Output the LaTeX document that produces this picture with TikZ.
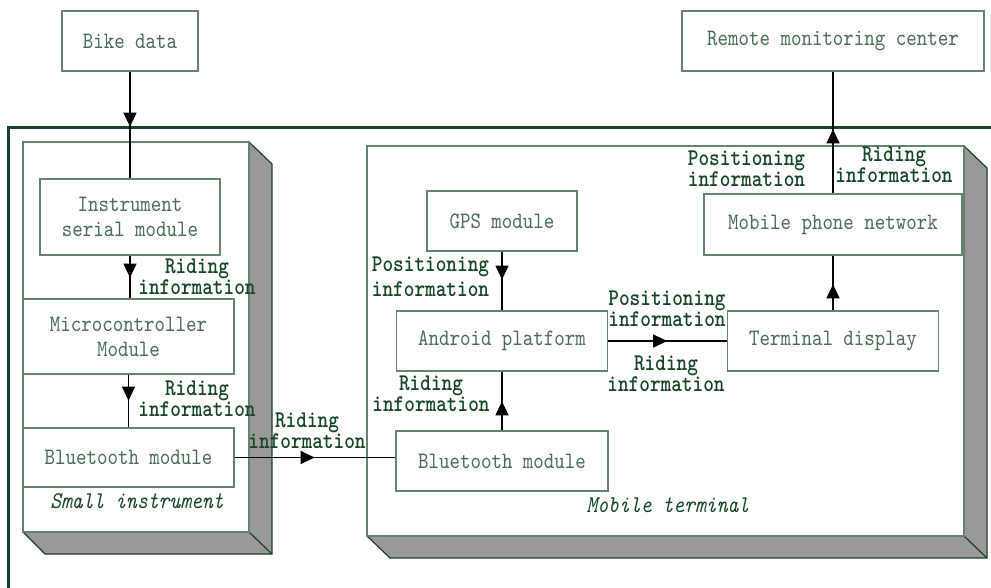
\documentclass[tikz,border=0pt]{standalone}
\usepackage{fontspec}
\usetikzlibrary{arrows.meta,decorations.markings}
\newfontfamily\unitface{lmmono10-regular.otf}[FakeStretch=0.85]
\newfontfamily\labelface{lmmonolt10-bold.otf}[FakeStretch=0.845]
\newfontfamily\captionface{lmmono10-italic.otf}[FakeStretch=0.86]
\definecolor{framegreen}{RGB}{22,68,38}
\definecolor{boxline}{RGB}{100,132,112}
\definecolor{boxtext}{RGB}{72,108,86}
\definecolor{lblgreen}{RGB}{20,70,38}
\definecolor{slabgray}{RGB}{153,153,153}
\newcommand\boxfont{\unitface\fontsize{23.5}{25}\selectfont}
\newcommand\lblfont{\labelface\fontsize{24}{19}\selectfont}
\newcommand\posfont{\labelface\fontsize{24}{25}\selectfont}
\newcommand\capfont{\captionface\fontsize{24}{25}\selectfont}
\tikzset{
  unit/.style={draw=boxline, fill=white, line width=1.3pt, text=boxtext,
    font=\boxfont, inner sep=0pt, align=center},
  flowlabel/.style={text=lblgreen, font=\lblfont, align=center, inner sep=0pt, anchor=south},
  poslabel/.style={text=lblgreen, font=\posfont, align=center, inner sep=0pt, anchor=south},
  casecaption/.style={text=lblgreen, font=\capfont, inner sep=0pt, anchor=base},
  link/.style={draw=black, line width=1.2pt},
  tipat/.style={postaction={decorate, decoration={markings,
    mark=at position #1 with {\arrow{Triangle[width=13pt,length=14pt]}}}}},
  slab/.style={fill=slabgray},
  casing/.style={draw=framegreen, line width=1.2pt},
  face/.style={draw=boxline, fill=white, line width=1.3pt},
}
\begin{document}
\begin{tikzpicture}[x=1pt,y=-1pt]
\useasboundingbox (0,0) rectangle (991,588);

% outer system frame
\draw[framegreen, line width=3pt] (8.5,588) -- (8.5,127.5) -- (991,127.5);

% small instrument casing
\fill[slab] (249,142) -- (272,164) -- (272,554) -- (45,554) -- (23,532) -- (249,532) -- cycle;
\draw[casing] (23,532) -- (45,554) -- (272,554) -- (272,164) -- (249,142);
\draw[casing] (249,532) -- (272,554);
\draw[face] (23,142) rectangle (249,532);

% mobile terminal casing
\fill[slab] (964,146) -- (987,168) -- (987,558) -- (390,558) -- (367,536) -- (964,536) -- cycle;
\draw[casing] (367,536) -- (390,558) -- (987,558) -- (987,168) -- (964,146);
\draw[casing] (964,536) -- (987,558);
\draw[face] (367,146) rectangle (964,536);

% units
\node[unit, minimum width=136pt, minimum height=60pt] (bike) at (130,41) {Bike data};
\node[unit, minimum width=302pt, minimum height=60pt] (remote) at (833,41) {Remote monitoring center};
\node[unit, minimum width=180pt, minimum height=76pt] (serial) at (130,217) {Instrument\\serial module};
\node[unit, minimum width=211pt, minimum height=75pt] (micro) at (128.5,336.5) {Microcontroller\\Module};
\node[unit, minimum width=211pt, minimum height=59pt] (btl) at (128.5,457.5) {Bluetooth module};
\node[unit, minimum width=150pt, minimum height=60pt] (gps) at (502,221) {GPS module};
\node[unit, minimum width=211pt, minimum height=60pt] (android) at (502,341) {Android platform};
\node[unit, minimum width=212pt, minimum height=60pt] (btm) at (502,461) {Bluetooth module};
\node[unit, minimum width=211pt, minimum height=60pt] (term) at (833,341) {Terminal display};
\node[unit, minimum width=258pt, minimum height=61pt] (mpn) at (833,224.5) {Mobile phone network};

% connectors
\draw[link, tipat=55pt] (bike.south) -- (serial.north);
\draw[link, tipat=22pt] (serial.south) -- (serial.south |- micro.north);
\draw[link, tipat=26pt] (micro.south) -- (btl.north);
\draw[link, tipat=80pt] (btl.east) -- (btl.east -| btm.west);
\draw[link, tipat=28pt] (gps.south) -- (android.north);
\draw[link, tipat=29pt] (btm.north) -- (android.south);
\draw[link, tipat=59pt] (android.east) -- (term.west);
\draw[link, tipat=26pt] (term.north) -- (mpn.south);
\draw[link, tipat=64pt] (mpn.north) -- (remote.south);

% flow labels (placed by the baseline of their last line)
\node[flowlabel] (l1) at (197,295) {Riding\\information};
\node[flowlabel] (l2) at (197,417) {Riding\\information};
\node[flowlabel] (l3) at (307,449) {Riding\\information};
\node[poslabel] (l4) at (430.5,297) {Positioning\\information};
\node[flowlabel] (l5) at (667,327) {Positioning\\information};
\node[flowlabel] (l6) at (666,392) {Riding\\information};
\node[flowlabel] (l7) at (431,412) {Riding\\information};
\node[flowlabel] (l8) at (746.5,187) {Positioning\\information};
\node[flowlabel] (l9) at (894,183) {Riding\\information};

% casing captions
\node[casecaption] (capsmall) at (137,508) {Small instrument};
\node[casecaption] (capmobile) at (668,512) {Mobile terminal};
\end{tikzpicture}
\end{document}
